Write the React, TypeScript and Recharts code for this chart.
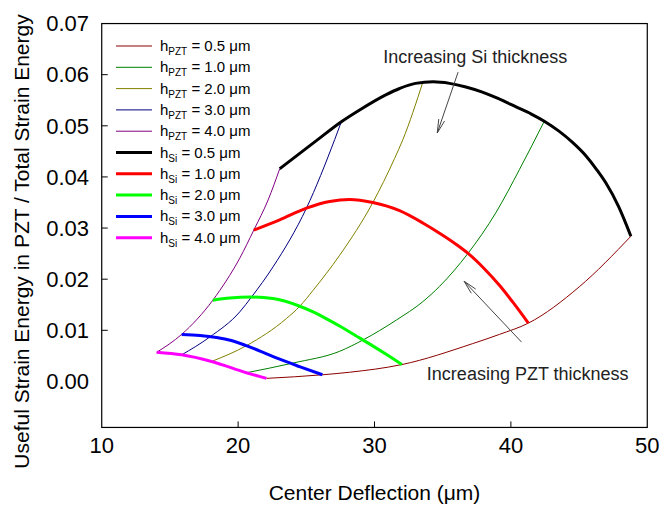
import { Legend, Line, LineChart, ReferenceDot, ReferenceLine, XAxis, YAxis } from "recharts"

const FONT = "'Liberation Sans', Arial, Helvetica, sans-serif"

// chart geometry
const W = 662
const H = 510
const MARGIN = { top: 21, right: 12, bottom: 30, left: 19 }
const Y_AXIS_W = 80
const X_AXIS_H = 50

// frame limits and a little padding so the frame sits inside the plot area
const X_MIN = 10
const X_MAX = 50
const Y_MIN = -0.009
const Y_MAX = 0.07
const X_PAD = 0.2
const Y_PAD = 0.0005
const xTicks = [10, 20, 30, 40, 50]
const yTicks = [0, 0.01, 0.02, 0.03, 0.04, 0.05, 0.06, 0.07]

type Pt = [number, number]

// constant PZT thickness, Si thickness varied
const pzt05: Pt[] = [[22.08, 0.0006], [26.18, 0.0013], [28.18, 0.0018], [32.01, 0.0033], [37.2, 0.0074], [39.16, 0.0092], [41.28, 0.0114], [45.01, 0.0185], [48.8, 0.0284]]
const pzt10: Pt[] = [[20.61, 0.0017], [24.03, 0.0036], [27.45, 0.0059], [29.15, 0.0081], [31.6, 0.012], [33.54, 0.0156], [34.77, 0.0186], [36.84, 0.025], [38.92, 0.0331], [40.62, 0.0414], [42.45, 0.0509]]
const pzt20: Pt[] = [[18.05, 0.0039], [20.61, 0.007], [23.54, 0.0123], [24.52, 0.0147], [25.49, 0.0178], [27.45, 0.0247], [29.88, 0.035], [31.47, 0.0436], [32.08, 0.0473], [33.54, 0.0585]]
const pzt30: Pt[] = [[15.86, 0.0052], [17.93, 0.0087], [20.12, 0.0136], [20.98, 0.0165], [22.56, 0.0224], [25.01, 0.0339], [27.08, 0.0473], [27.57, 0.0508]]
const pzt40: Pt[] = [[14.03, 0.0057], [15.86, 0.0092], [18.15, 0.0159], [18.66, 0.0178], [20.12, 0.0241], [21.15, 0.0296], [22.2, 0.0355], [23.05, 0.0416]]

// constant Si thickness, PZT thickness varied
const si05: Pt[] = [[23.05, 0.0416], [24.52, 0.0446], [25.74, 0.0471], [27.57, 0.0508], [28.91, 0.0531], [30.86, 0.0561], [31.84, 0.0573], [33.0, 0.0583], [34.3, 0.0586], [35.5, 0.0583], [36.7, 0.0576], [37.91, 0.0566], [39.1, 0.0553], [40.38, 0.0537], [41.5, 0.0523], [42.45, 0.0509], [43.5, 0.049], [44.5, 0.0468], [45.51, 0.0441], [46.3, 0.0414], [46.97, 0.0388], [47.9, 0.0342], [48.8, 0.0284]]
const si10: Pt[] = [[21.15, 0.0296], [23.05, 0.0316], [25.01, 0.0339], [26.71, 0.0352], [28.18, 0.0356], [29.88, 0.035], [31.84, 0.0334], [33.54, 0.031], [34.77, 0.029], [36.0, 0.0268], [36.84, 0.0251], [38.0, 0.0222], [39.16, 0.0188], [40.2, 0.0153], [41.28, 0.0114]]
const si20: Pt[] = [[18.15, 0.0159], [19.39, 0.0163], [20.86, 0.0165], [22.56, 0.0162], [24.52, 0.0147], [25.5, 0.0136], [26.59, 0.0121], [27.6, 0.0106], [28.6, 0.009], [29.6, 0.0074], [30.8, 0.0054], [32.01, 0.0033]]
const si30: Pt[] = [[15.86, 0.0092], [17.2, 0.009], [18.42, 0.0086], [19.5, 0.008], [20.6, 0.007], [21.83, 0.0057], [23.0, 0.0044], [24.5, 0.0029], [26.18, 0.0013]]
const si40: Pt[] = [[14.03, 0.0057], [15.86, 0.0052], [18.05, 0.0039], [20.61, 0.0017], [22.08, 0.0006]]

const pztSeries = [
  { t: "0.5", color: "#8b0000", pts: pzt05 },
  { t: "1.0", color: "#008000", pts: pzt10 },
  { t: "2.0", color: "#808000", pts: pzt20 },
  { t: "3.0", color: "#000080", pts: pzt30 },
  { t: "4.0", color: "#800080", pts: pzt40 },
]
const siSeries = [
  { t: "0.5", color: "#000000", pts: si05 },
  { t: "1.0", color: "#ff0000", pts: si10 },
  { t: "2.0", color: "#00ff00", pts: si20 },
  { t: "3.0", color: "#0000ff", pts: si30 },
  { t: "4.0", color: "#ff00ff", pts: si40 },
]

const toPoints = (pts: Pt[]) => pts.map(([x, y]) => ({ x, y }))

const legendItems = [
  ...pztSeries.map((s) => ({ sub: "PZT", t: s.t, color: s.color, w: 1 })),
  ...siSeries.map((s) => ({ sub: "Si", t: s.t, color: s.color, w: 3 })),
]

// plot area and the linear maps of the two number axes
const plotLeft = MARGIN.left + Y_AXIS_W
const plotRight = W - MARGIN.right
const plotTop = MARGIN.top
const plotBottom = H - MARGIN.bottom - X_AXIS_H
const sx = (v: number) =>
  plotLeft + ((v - (X_MIN - X_PAD)) / (X_MAX - X_MIN + 2 * X_PAD)) * (plotRight - plotLeft)
const sy = (v: number) =>
  plotBottom - ((v - (Y_MIN - Y_PAD)) / (Y_MAX - Y_MIN + 2 * Y_PAD)) * (plotBottom - plotTop)

function XTick({ x, y, payload }: any) {
  return (
    <text x={x} y={y} dy="0.71em" textAnchor="middle" fontSize={22} fontFamily={FONT} fill="#000">
      {payload.value}
    </text>
  )
}

function YTick({ x, y, payload }: any) {
  return (
    <text x={x} y={y} dy="0.355em" textAnchor="end" fontSize={22} fontFamily={FONT} fill="#000">
      {Number(payload.value).toFixed(2)}
    </text>
  )
}

// overlay: plot frame with inward ticks, plus the legend box in the upper left
function Overlay() {
  const fx1 = sx(X_MIN)
  const fx2 = sx(X_MAX)
  const fy1 = sy(Y_MAX)
  const fy2 = sy(Y_MIN)
  return (
    <svg width={W} height={H} style={{ pointerEvents: "none" }}>
      <rect x={fx1} y={fy1} width={fx2 - fx1} height={fy2 - fy1} fill="none" stroke="#000" strokeWidth={1.2} />
      {xTicks.slice(1, -1).map((v) => (
        <line key={`xm${v}`} x1={sx(v)} x2={sx(v)} y1={fy2} y2={fy2 - 6} stroke="#000" strokeWidth={1} />
      ))}
      {yTicks.slice(1, -1).map((v) => (
        <line key={`ym${v}`} x1={fx1} x2={fx1 + 6} y1={sy(v)} y2={sy(v)} stroke="#000" strokeWidth={1} />
      ))}
      <g transform="translate(108 35)">
        {legendItems.map((it, i) => {
          const cy = 11 + i * 21.3
          return (
            <g key={i}>
              <line x1={8} x2={44} y1={cy} y2={cy} stroke={it.color} strokeWidth={it.w} />
              <text x={52} y={cy + 5} fontSize={15} fontFamily={FONT} fill="#000">
                h
                <tspan fontSize={10} dy={4}>{it.sub}</tspan>
                <tspan dy={-4}>{` = ${it.t} μm`}</tspan>
              </text>
            </g>
          )
        })}
      </g>
    </svg>
  )
}

function Arrow(props: any) {
  const { x1, y1, x2, y2 } = props
  const ang = Math.atan2(y2 - y1, x2 - x1)
  const len = 14
  const spread = 0.22
  const ax = x2 - len * Math.cos(ang - spread)
  const ay = y2 - len * Math.sin(ang - spread)
  const bx = x2 - len * Math.cos(ang + spread)
  const by = y2 - len * Math.sin(ang + spread)
  return (
    <g>
      <line x1={x1} y1={y1} x2={x2} y2={y2} stroke="#444" strokeWidth={1} />
      <path d={`M${ax},${ay} L${x2},${y2} L${bx},${by}`} fill="none" stroke="#444" strokeWidth={1} />
    </g>
  )
}

const note = (text: string, anchor: "start" | "middle") => (p: any) => (
  <text x={p.cx} y={p.cy} dy="0.355em" textAnchor={anchor} fontSize={18} fontFamily={FONT} fill="#222">
    {text}
  </text>
)

export default function App() {
  return (
    <div style={{ position: "absolute", left: 0, top: 0, fontFamily: FONT }}>
      <LineChart width={W} height={H} margin={MARGIN}>
        <XAxis
          type="number"
          dataKey="x"
          domain={[X_MIN - X_PAD, X_MAX + X_PAD]}
          ticks={xTicks}
          axisLine={false}
          tickLine={false}
          tickSize={0}
          tickMargin={7}
          tick={<XTick />}
          height={X_AXIS_H}
          allowDataOverflow
          label={{
            content: ({ viewBox }: any) => (
              <text
                x={viewBox.x + viewBox.width / 2}
                y={viewBox.y + 63}
                dy="0.355em"
                textAnchor="middle"
                fontSize={21}
                fontFamily={FONT}
                fill="#000"
              >
                Center Deflection (μm)
              </text>
            ),
          }}
        />
        <YAxis
          type="number"
          dataKey="y"
          domain={[Y_MIN - Y_PAD, Y_MAX + Y_PAD]}
          ticks={yTicks}
          axisLine={false}
          tickLine={false}
          tickSize={0}
          tickMargin={10}
          tick={<YTick />}
          width={Y_AXIS_W}
          allowDataOverflow
          label={{
            content: ({ viewBox }: any) => {
              const cx = viewBox.x + 3
              const cy = viewBox.y + viewBox.height / 2 + 16
              return (
                <text
                  x={cx}
                  y={cy}
                  dy="0.355em"
                  textAnchor="middle"
                  transform={`rotate(-90 ${cx} ${cy})`}
                  fontSize={21}
                  fontFamily={FONT}
                  fill="#000"
                >
                  Useful Strain Energy in PZT / Total Strain Energy
                </text>
              )
            },
          }}
        />
        <Legend
          layout="vertical"
          align="center"
          verticalAlign="middle"
          wrapperStyle={{ left: 0, top: 0, width: W, height: H, pointerEvents: "none" }}
          content={() => <Overlay />}
        />
        {pztSeries.map((s) => (
          <Line
            key={`pzt${s.t}`}
            name={`hPZT = ${s.t} μm`}
            data={toPoints(s.pts)}
            dataKey="y"
            type="monotone"
            stroke={s.color}
            strokeWidth={1}
            dot={false}
            isAnimationActive={false}
          />
        ))}
        {siSeries.map((s) => (
          <Line
            key={`si${s.t}`}
            name={`hSi = ${s.t} μm`}
            data={toPoints(s.pts)}
            dataKey="y"
            type="monotone"
            stroke={s.color}
            strokeWidth={3}
            dot={false}
            isAnimationActive={false}
          />
        ))}
        <ReferenceLine segment={[{ x: 36.13, y: 0.0605 }, { x: 34.6, y: 0.0486 }]} shape={<Arrow />} />
        <ReferenceLine segment={[{ x: 40.78, y: 0.0077 }, { x: 36.57, y: 0.0196 }]} shape={<Arrow />} />
        <ReferenceDot x={37.39} y={0.0635} r={0} shape={note("Increasing Si thickness", "middle")} />
        <ReferenceDot x={33.84} y={0.0015} r={0} shape={note("Increasing PZT thickness", "start")} />
      </LineChart>
    </div>
  )
}
